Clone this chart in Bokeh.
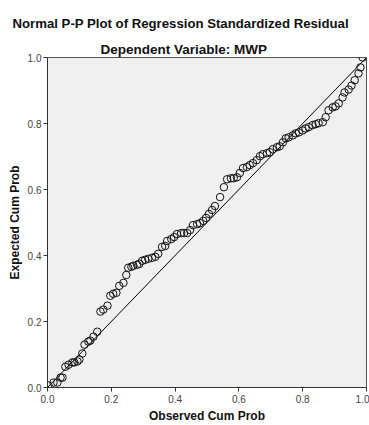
from bokeh.plotting import figure
from bokeh.models import Range1d, Title, FixedTicker
from bokeh.embed import file_html
from bokeh.resources import INLINE

main_title = "Normal P-P Plot of Regression Standardized Residual"
sub_title = "Dependent Variable: MWP"
x_label = "Observed Cum Prob"
y_label = "Expected Cum Prob"
ticks = [0.0, 0.2, 0.4, 0.6, 0.8, 1.0]
tick_labels = {0.0: "0.0", 0.2: "0.2", 0.4: "0.4", 0.6: "0.6", 0.8: "0.8", 1.0: "1.0"}

observed = [0.003, 0.019, 0.031, 0.041, 0.047, 0.056, 0.066, 0.078, 0.084, 0.094,
            0.100, 0.109, 0.116, 0.128, 0.134, 0.144, 0.156, 0.166, 0.175, 0.188,
            0.197, 0.206, 0.216, 0.225, 0.238, 0.247, 0.253, 0.263, 0.269, 0.281,
            0.288, 0.297, 0.306, 0.316, 0.328, 0.338, 0.347, 0.359, 0.369, 0.375,
            0.388, 0.397, 0.406, 0.419, 0.428, 0.438, 0.447, 0.456, 0.469, 0.478,
            0.488, 0.497, 0.506, 0.516, 0.525, 0.541, 0.553, 0.563, 0.575, 0.584,
            0.594, 0.603, 0.613, 0.625, 0.634, 0.644, 0.656, 0.666, 0.675, 0.688,
            0.697, 0.706, 0.719, 0.728, 0.738, 0.747, 0.756, 0.769, 0.778, 0.788,
            0.800, 0.809, 0.819, 0.831, 0.841, 0.850, 0.863, 0.872, 0.881, 0.894,
            0.903, 0.913, 0.925, 0.931, 0.944, 0.953, 0.963, 0.975, 0.981, 0.988]
expected = [0.006, 0.015, 0.015, 0.030, 0.030, 0.063, 0.069, 0.076, 0.076, 0.079,
            0.085, 0.103, 0.130, 0.139, 0.142, 0.154, 0.169, 0.230, 0.236, 0.248,
            0.278, 0.284, 0.287, 0.308, 0.317, 0.341, 0.363, 0.366, 0.369, 0.372,
            0.375, 0.384, 0.387, 0.390, 0.393, 0.396, 0.405, 0.426, 0.429, 0.444,
            0.450, 0.456, 0.465, 0.468, 0.468, 0.468, 0.477, 0.492, 0.495, 0.498,
            0.505, 0.514, 0.526, 0.538, 0.550, 0.577, 0.607, 0.631, 0.634, 0.634,
            0.637, 0.650, 0.665, 0.668, 0.674, 0.680, 0.689, 0.701, 0.707, 0.710,
            0.713, 0.722, 0.728, 0.731, 0.743, 0.755, 0.758, 0.764, 0.770, 0.773,
            0.779, 0.785, 0.789, 0.795, 0.798, 0.801, 0.804, 0.819, 0.840, 0.849,
            0.852, 0.861, 0.879, 0.894, 0.903, 0.915, 0.931, 0.952, 0.970, 1.000]
diag_x = [0.0, 1.0]
diag_y = [0.0, 1.0]

FONT = "Liberation Sans"

p = figure(width=369, height=425, output_backend="svg", toolbar_location=None,
           x_range=Range1d(0, 1), y_range=Range1d(0, 1),
           min_border_left=47, min_border_right=3, min_border_top=57, min_border_bottom=37)
p.border_fill_color = "white"
p.background_fill_color = "#f0f0f0"
p.outline_line_color = "#555555"
p.outline_line_width = 1
p.xgrid.visible = False
p.ygrid.visible = False

p.title.text = main_title
p.title.text_font = FONT
p.title.text_font_size = "13.2px"
p.title.text_font_style = "bold"
p.title.text_color = "#111111"
p.title.align = "left"
p.title.offset = -35
p.title.standoff = 16

t = Title(text=sub_title, text_font=FONT, text_font_size="13.5px", text_font_style="bold",
          text_color="#111111", align="left", offset=53, standoff=2)
p.add_layout(t, "above")

for ax in (p.xaxis[0], p.yaxis[0]):
    ax.ticker = FixedTicker(ticks=ticks)
    ax.major_label_overrides = tick_labels
    ax.minor_tick_line_color = None
    ax.major_tick_in = 0
    ax.major_tick_out = 4
    ax.axis_line_color = "#333333"
    ax.major_tick_line_color = "#333333"
    ax.major_label_text_font = FONT
    ax.major_label_text_font_size = "10px"
    ax.major_label_text_color = "#444444"
    ax.axis_label_text_font = FONT
    ax.axis_label_text_font_size = "12px"
    ax.axis_label_text_font_style = "bold"
    ax.axis_label_text_color = "#111111"

p.xaxis.major_label_standoff = 3
p.yaxis.major_label_standoff = 2
p.xaxis.axis_label = x_label
p.yaxis.axis_label = y_label
p.xaxis.axis_label_standoff = 3
p.yaxis.axis_label_standoff = 3

p.line(diag_x, diag_y, line_color="black", line_width=1)
p.scatter(observed, expected, size=7.5, fill_color=None, line_color="#111111", line_width=1)

open("out.html", "w").write(file_html(p, INLINE))
